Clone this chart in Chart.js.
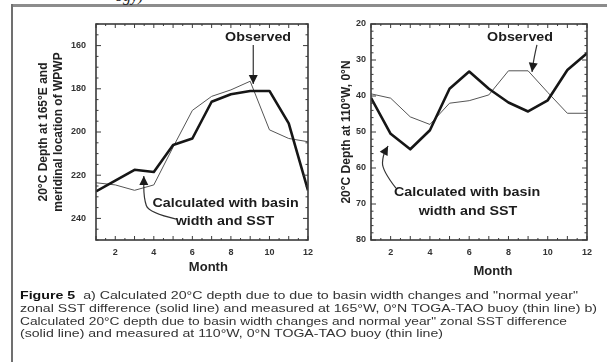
<!DOCTYPE html>
<html>
<head>
<meta charset="utf-8">
<script src="https://cdn.jsdelivr.net/npm/chart.js@4.4.1/dist/chart.umd.min.js"></script>
<style>
  html, body { margin: 0; padding: 0; background: #fff; }
  #page { position: relative; width: 607px; height: 362px; overflow: hidden; font-family: "Liberation Sans", Arial, sans-serif; }
  #topRule { position: absolute; left: 12px; top: 4px; width: 595px; height: 3px; background: #8c8c8c; }
  #leftRule { position: absolute; left: 11px; top: 4px; width: 2px; height: 358px; background: #707070; }
  #clipText { position: absolute; left: 115px; top: -12px; font: italic 16px "Liberation Serif", serif; line-height: 16px; color: #222; }
  #leftWrap { position: absolute; left: 0; top: 0; width: 320px; height: 290px; }
  #rightWrap { position: absolute; left: 320px; top: 0; width: 287px; height: 290px; }
  .cap { position: absolute; left: 20px; font-size: 11px; line-height: 12px; color: #333; white-space: nowrap; transform-origin: 0 50%; }
  .cap b { color: #111; }
</style>
</head>
<body>
<div id="page">
  <div id="topRule"></div>
  <div id="leftRule"></div>
  <div id="clipText">ogy)</div>
  <div id="leftWrap"><canvas id="leftChart" width="320" height="290"></canvas></div>
  <div id="rightWrap"><canvas id="rightChart" width="287" height="290"></canvas></div>
  <div class="cap" style="top:289px" data-w="558"><b>Figure 5</b>&nbsp; a) Calculated 20°C depth due to due to basin width changes and "normal year"</div>
  <div class="cap" style="top:302px" data-w="577">zonal SST difference (solid line) and measured at 165°W, 0°N TOGA-TAO buoy (thin line) b)</div>
  <div class="cap" style="top:315px" data-w="547">Calculated 20°C depth due to basin width changes and normal year" zonal SST difference</div>
  <div class="cap" style="top:327px" data-w="423">(solid line) and measured at 110°W, 0°N TOGA-TAO buoy (thin line)</div>
</div>
<script>
// values, one per month
const months = [1, 2, 3, 4, 5, 6, 7, 8, 9, 10, 11, 12];
const wpwpCalculated = [227.5, 222.5, 217.5, 218.5, 206, 203, 186, 182.5, 181, 181, 196, 227];
const wpwpObserved = [223.5, 224.5, 227, 224.5, 207, 190, 183.5, 180.5, 176.5, 199, 203, 204.5];
const eastCalculated = [40.5, 50.5, 54.8, 49.5, 38, 33.2, 38, 41.8, 44.3, 41.2, 32.8, 28.1];
const eastObserved = [39.4, 40.6, 45.8, 47.9, 42, 41.3, 39.7, 33, 33, 39, 44.8, 44.8];

const monthTicks = [2, 4, 6, 8, 10, 12];
const wpwpTicks = [160, 180, 200, 220, 240];
const eastTicks = [20, 30, 40, 50, 60, 70, 80];

const FONT = '"Liberation Sans", Arial, sans-serif';

// box around the plot with small inward ticks on all four sides, plus the x title
const framePlugin = {
  id: 'frame',
  afterDraw(chart, args, opts) {
    const { ctx, chartArea: a, scales: { x, y } } = chart;
    ctx.save();
    ctx.strokeStyle = '#3a3a3a';
    ctx.lineWidth = 1;
    ctx.beginPath();
    for (let m = x.min; m <= x.max + 1e-6; m += 0.5) {
      const px = x.getPixelForValue(m);
      const len = Number.isInteger(m) ? 4 : 2;
      ctx.moveTo(px, a.bottom); ctx.lineTo(px, a.bottom - len);
      ctx.moveTo(px, a.top); ctx.lineTo(px, a.top + len);
    }
    for (let v = y.min; v <= y.max + 1e-6; v += opts.minor) {
      const py = y.getPixelForValue(v);
      const len = (v % opts.major === 0) ? 5 : 2.5;
      ctx.moveTo(a.left, py); ctx.lineTo(a.left + len, py);
      ctx.moveTo(a.right, py); ctx.lineTo(a.right - len, py);
    }
    ctx.stroke();
    ctx.lineWidth = 1.6;
    ctx.strokeRect(a.left, a.top, a.right - a.left, a.bottom - a.top);

    ctx.fillStyle = '#222';
    ctx.font = 'bold 13px ' + FONT;
    ctx.textAlign = 'center';
    ctx.textBaseline = 'middle';
    ctx.fillText(opts.xTitle, x.getPixelForValue(opts.xTitleAt), a.bottom + opts.xTitleDy);
    ctx.restore();
  }
};

// "Observed" / "Calculated ..." labels and their arrows, placed in data units
const notesPlugin = {
  id: 'notes',
  afterDraw(chart, args, opts) {
    const { ctx, scales: { x, y } } = chart;
    const px = p => [x.getPixelForValue(p[0]), y.getPixelForValue(p[1])];
    ctx.save();
    ctx.fillStyle = '#1c1c1c';
    ctx.font = 'bold 13px ' + FONT;
    ctx.textAlign = 'center';
    ctx.textBaseline = 'middle';
    opts.labels.forEach(l => {
      const [cx, cy] = px(l.at);
      ctx.save();
      ctx.translate(cx, cy);
      ctx.scale(1.1, 1);
      ctx.fillText(l.text, 0, 0);
      ctx.restore();
    });
    opts.arrows.forEach(arr => {
      const pts = arr.map(px);
      ctx.strokeStyle = '#333';
      ctx.lineWidth = 1.2;
      ctx.beginPath();
      ctx.moveTo(pts[0][0], pts[0][1]);
      for (let i = 1; i < pts.length - 1; i++) {
        const mx = (pts[i][0] + pts[i + 1][0]) / 2;
        const my = (pts[i][1] + pts[i + 1][1]) / 2;
        ctx.quadraticCurveTo(pts[i][0], pts[i][1], mx, my);
      }
      const [tx, ty] = pts[pts.length - 1];
      const [bx, by] = pts[pts.length - 2];
      ctx.lineTo(tx, ty);
      ctx.stroke();
      const ang = Math.atan2(ty - by, tx - bx);
      const c = Math.cos(ang), s = Math.sin(ang);
      ctx.beginPath();
      ctx.moveTo(tx, ty);
      ctx.lineTo(tx - 9 * c + 4.5 * s, ty - 9 * s - 4.5 * c);
      ctx.lineTo(tx - 9 * c - 4.5 * s, ty - 9 * s + 4.5 * c);
      ctx.closePath();
      ctx.fill();
    });
    ctx.restore();
  }
};

function makeChart(id, calc, obs, cfg) {
  return new Chart(document.getElementById(id), {
    type: 'line',
    data: {
      datasets: [
        { data: calc.map((v, i) => ({ x: months[i], y: v })), borderColor: '#161616', borderWidth: 2.6 },
        { data: obs.map((v, i) => ({ x: months[i], y: v })), borderColor: '#555', borderWidth: 1 }
      ]
    },
    options: {
      responsive: false,
      animation: false,
      layout: { padding: { top: 24, right: cfg.padRight, left: 0, bottom: 0 } },
      elements: { point: { radius: 0 }, line: { tension: 0, borderJoinStyle: 'round' } },
      scales: {
        x: {
          type: 'linear', min: 1, max: 12,
          afterBuildTicks: s => { s.ticks = monthTicks.map(v => ({ value: v })); },
          afterFit: s => { s.height = 50; },
          grid: { display: false, drawTicks: false },
          border: { display: false },
          ticks: { padding: 7, color: '#333', font: { family: FONT, size: 9, weight: 'bold' } }
        },
        y: {
          type: 'linear', reverse: true, min: cfg.yMin, max: cfg.yMax,
          afterBuildTicks: s => { s.ticks = cfg.yTicks.map(v => ({ value: v })); },
          afterFit: s => { s.width = cfg.yWidth; },
          grid: { display: false, drawTicks: false },
          border: { display: false },
          ticks: { padding: cfg.yPad, color: '#333', font: { family: FONT, size: 9, weight: 'bold' } },
          title: { display: true, text: cfg.yTitle, color: '#222', padding: { top: cfg.yTitlePad, bottom: 0 }, font: { family: FONT, size: 12, weight: 'bold', lineHeight: 1.25 } }
        }
      },
      plugins: {
        legend: { display: false },
        tooltip: { enabled: false },
        frame: cfg.frame,
        notes: cfg.notes
      }
    },
    plugins: [framePlugin, notesPlugin]
  });
}

makeChart('leftChart', wpwpCalculated, wpwpObserved, {
  padRight: 7, yWidth: 96, yPad: 10, yTitlePad: 36,
  yMin: 150, yMax: 250, yTicks: wpwpTicks,
  yTitle: ['20°C Depth at 165°E and', 'meridinal location of WPWP'],
  frame: { minor: 5, major: 20, xTitle: 'Month', xTitleAt: 6.83, xTitleDy: 27 },
  notes: {
    labels: [
      { text: 'Observed', at: [9.41, 156] },
      { text: 'Calculated with basin', at: [7.72, 232.9] },
      { text: 'width and SST', at: [7.69, 241.2] }
    ],
    arrows: [
      [[9.16, 159.7], [9.16, 177.8]],
      [[5.16, 240.3], [3.74, 237.5], [3.48, 230.6], [3.48, 220.4]]
    ]
  }
});

makeChart('rightChart', eastCalculated, eastObserved, {
  padRight: 20, yWidth: 51, yPad: 5, yTitlePad: 19,
  yMin: 20, yMax: 80, yTicks: eastTicks,
  yTitle: '20°C Depth at 110°W, 0°N',
  frame: { minor: 2, major: 10, xTitle: 'Month', xTitleAt: 7.21, xTitleDy: 31 },
  notes: {
    labels: [
      { text: 'Observed', at: [8.59, 23.6] },
      { text: 'Calculated with basin', at: [5.89, 66.9] },
      { text: 'width and SST', at: [5.94, 72.2] }
    ],
    arrows: [
      [[9.45, 25.8], [9.30, 29.4], [9.20, 33.3]],
      [[2.27, 65.6], [1.56, 60.6], [1.61, 56.4], [1.87, 53.9]]
    ]
  }
});

// stretch caption lines to the widths they have in the scan
document.querySelectorAll('.cap').forEach(el => {
  const w = el.getBoundingClientRect().width;
  el.style.transform = 'scaleX(' + (Number(el.dataset.w) / w) + ')';
});
</script>
</body>
</html>
